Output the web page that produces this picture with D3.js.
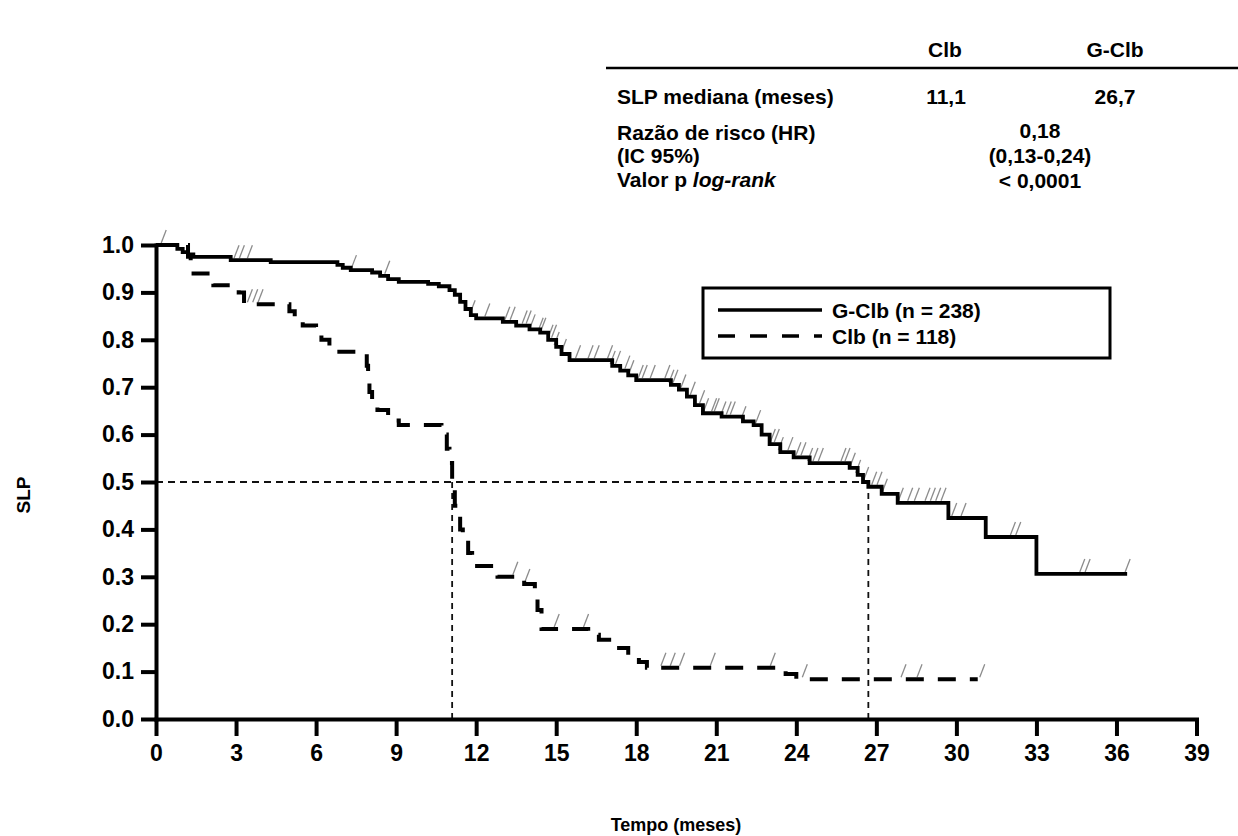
<!DOCTYPE html>
<html>
<head>
<meta charset="utf-8">
<script src="https://cdn.jsdelivr.net/npm/d3@7"></script>
<style>
  body { margin: 0; background: #fff; }
  svg { font-family: "Liberation Sans", Arial, sans-serif; font-weight: bold; }
</style>
</head>
<body>
<div id="chart"></div>
<script>
// ---- data ----
const xTickValues = [0, 3, 6, 9, 12, 15, 18, 21, 24, 27, 30, 33, 36, 39];
const yTickValues = [0, 0.1, 0.2, 0.3, 0.4, 0.5, 0.6, 0.7, 0.8, 0.9, 1.0];

// G-Clb (solid): time of each step and survival after the step
const gclbTimes = [0, 0.8, 1.0, 1.2, 1.4, 2.8, 4.3, 6.8, 7.0, 7.3, 8.1, 8.4, 8.7, 9.1, 10.2, 10.6, 11.0, 11.2, 11.4, 11.6, 11.8, 12.0,
  13.0, 13.5, 14.0, 14.4, 14.7, 15.0, 15.2, 15.5, 17.1, 17.4, 17.7, 18.0, 19.3, 19.6, 19.9, 20.2, 20.5, 21.2, 22.0, 22.4,
  22.7, 23.0, 23.4, 23.9, 24.5, 26.0, 26.3, 26.5, 26.7, 27.2, 27.8, 29.7, 31.1, 33.0, 36.4];
const gclbSurv = [1.0, 0.992, 0.985, 0.98, 0.975, 0.968, 0.964, 0.958, 0.952, 0.947, 0.942, 0.935, 0.928, 0.922, 0.918, 0.913, 0.905, 0.895, 0.88, 0.865, 0.852, 0.845,
  0.838, 0.83, 0.822, 0.815, 0.80, 0.785, 0.77, 0.757, 0.745, 0.735, 0.725, 0.715, 0.705, 0.695, 0.68, 0.662, 0.645, 0.638, 0.628, 0.62,
  0.60, 0.58, 0.563, 0.552, 0.54, 0.53, 0.515, 0.50, 0.49, 0.475, 0.456, 0.424, 0.384, 0.306, 0.306];
const gclbCensor = [0.27, 3.0, 3.2, 3.5, 7.4, 8.65, 11.85, 12.4, 13.15, 13.35, 13.8, 13.95, 14.1, 14.4, 14.5, 14.77, 14.9, 15.0, 15.27,
  15.8, 16.27, 16.5, 17.0, 17.1, 17.3, 17.65, 17.8, 18.15, 18.3, 18.6, 19.15, 19.3, 19.45, 19.75, 20.1, 20.45, 20.6, 20.9, 21.0,
  21.25, 21.45, 21.6, 22.0, 22.55, 23.1, 23.25, 23.4, 23.76, 24.06, 24.25, 24.5, 24.7, 24.9, 25.75, 25.9, 26.1, 26.3, 26.6, 26.9,
  27.1, 27.3, 27.9, 28.25, 28.5, 28.9, 29.1, 29.3, 29.5, 29.9, 30.25, 32.1, 32.3, 34.7, 34.9, 36.4];

// Clb (dashed)
const clbTimes = [0, 1.2, 1.3, 2.15, 3.1, 3.3, 5.0, 5.2, 5.5, 6.0, 6.2, 6.5, 7.9, 7.95, 8.0, 8.1, 8.3, 8.7, 9.1, 10.7, 10.9, 11.0,
  11.1, 11.2, 11.4, 11.5, 11.7, 11.85, 12.8, 13.8, 14.2, 14.3, 14.45, 16.2, 16.6, 17.2, 17.7, 18.1, 18.4, 23.6, 24.0, 30.8];
const clbSurv = [1.0, 0.975, 0.94, 0.915, 0.90, 0.875, 0.86, 0.848, 0.83, 0.815, 0.80, 0.775, 0.745, 0.72, 0.69, 0.673, 0.652, 0.63, 0.62, 0.60, 0.57, 0.54,
  0.50, 0.45, 0.40, 0.38, 0.35, 0.323, 0.30, 0.285, 0.27, 0.23, 0.19, 0.178, 0.167, 0.15, 0.135, 0.12, 0.108, 0.095, 0.084, 0.084];
const clbCensor = [3.5, 3.7, 3.9, 13.45, 13.9, 15.0, 16.1, 19.0, 19.35, 19.7, 20.85, 23.1, 24.3, 28.0, 28.6, 30.95];

const medians = [11.1, 26.7];

const legendItems = ["G-Clb (n = 238)", "Clb (n = 118)"];

const tableHeader = ["Clb", "G-Clb"];
const tableRowLabel = "SLP mediana (meses)";
const tableRowValues = ["11,1", "26,7"];
const hrLabels = ["Razão de risco (HR)", "(IC 95%)", "Valor p "];
const hrValues = ["0,18", "(0,13-0,24)", "< 0,0001"];

// ---- layout ----
const W = 1238, H = 836;
const svg = d3.select("#chart").append("svg")
  .attr("width", W).attr("height", H);

const x = d3.scaleLinear().domain([0, 39]).range([156, 1196.5]);
const y = d3.scaleLinear().domain([0, 1]).range([719, 245]);

// step value lookup, used to sit the censor ticks on the curve
function survAt(times, surv, t) {
  let s = surv[0];
  for (let i = 0; i < times.length; i++) {
    if (times[i] <= t) s = surv[i]; else break;
  }
  return s;
}

// median reference lines
svg.append("line")
  .attr("x1", x(0)).attr("x2", x(medians[1]))
  .attr("y1", y(0.5)).attr("y2", y(0.5))
  .attr("stroke", "#111").attr("stroke-width", 1.8)
  .attr("stroke-dasharray", "7,5");
medians.forEach(m => {
  svg.append("line")
    .attr("x1", x(m)).attr("x2", x(m))
    .attr("y1", y(0.5)).attr("y2", y(0))
    .attr("stroke", "#111").attr("stroke-width", 1.8)
    .attr("stroke-dasharray", "6,5");
});

// censor ticks
function drawCensor(list, times, surv) {
  svg.append("g")
    .selectAll("line")
    .data(list)
    .enter()
    .append("line")
    .attr("x1", d => x(d) - 2)
    .attr("y1", d => y(survAt(times, surv, d)) - 2)
    .attr("x2", d => x(d) + 3)
    .attr("y2", d => y(survAt(times, surv, d)) - 15)
    .attr("stroke", "#8c8c8c")
    .attr("stroke-width", 1.3);
}
drawCensor(gclbCensor, gclbTimes, gclbSurv);
drawCensor(clbCensor, clbTimes, clbSurv);

const step = d3.line()
  .x(d => x(d[0]))
  .y(d => y(d[1]))
  .curve(d3.curveStepAfter);

svg.append("path")
  .datum(clbTimes.map((t, i) => [t, clbSurv[i]]))
  .attr("d", step)
  .attr("fill", "none")
  .attr("stroke", "#000")
  .attr("stroke-width", 4)
  .attr("stroke-dasharray", "18,14");

svg.append("path")
  .datum(gclbTimes.map((t, i) => [t, gclbSurv[i]]))
  .attr("d", step)
  .attr("fill", "none")
  .attr("stroke", "#000")
  .attr("stroke-width", 3.8);

// axes
const yAxis = svg.append("g")
  .attr("transform", `translate(${x(0)},0)`)
  .call(d3.axisLeft(y).tickValues(yTickValues).tickFormat(d3.format(".1f"))
    .tickSize(15).tickSizeOuter(0).tickPadding(7));
const xAxis = svg.append("g")
  .attr("transform", `translate(0,${y(0)})`)
  .call(d3.axisBottom(x).tickValues(xTickValues).tickFormat(d3.format("d"))
    .tickSize(17).tickSizeOuter(0).tickPadding(9));

[xAxis, yAxis].forEach(a => {
  a.select(".domain").attr("stroke", "#000").attr("stroke-width", 4).attr("stroke-linecap", "square");
  a.selectAll(".tick line").attr("stroke", "#000").attr("stroke-width", 4);
  a.selectAll(".tick text")
    .attr("fill", "#000")
    .style("font-family", '"Liberation Sans", Arial, sans-serif')
    .style("font-weight", "bold")
    .style("font-size", "23px");
});

// axis titles
svg.append("text")
  .attr("transform", "translate(30,495) rotate(-90)")
  .attr("text-anchor", "middle")
  .style("font-size", "19px")
  .text("SLP");
svg.append("text")
  .attr("x", 676).attr("y", 831)
  .attr("text-anchor", "middle")
  .style("font-size", "18px")
  .text("Tempo (meses)");

// legend
const legend = svg.append("g");
legend.append("rect")
  .attr("x", 703).attr("y", 288)
  .attr("width", 407).attr("height", 70)
  .attr("fill", "#fff").attr("stroke", "#000").attr("stroke-width", 3);
legendItems.forEach((label, i) => {
  const ly = 310 + i * 26;
  legend.append("line")
    .attr("x1", 718).attr("x2", 822)
    .attr("y1", ly).attr("y2", ly)
    .attr("stroke", "#000").attr("stroke-width", 3.5)
    .attr("stroke-dasharray", i === 1 ? "17,15" : null);
  legend.append("text")
    .attr("x", 832).attr("y", ly + 8)
    .style("font-size", "21px")
    .text(label);
});

// summary table
const table = svg.append("g").style("font-size", "21px");
[945, 1115].forEach((cx, i) => {
  table.append("text").attr("x", cx).attr("y", 57).attr("text-anchor", "middle").text(tableHeader[i]);
});
table.append("line")
  .attr("x1", 606).attr("x2", W)
  .attr("y1", 68).attr("y2", 68)
  .attr("stroke", "#000").attr("stroke-width", 2.5);
table.append("text").attr("x", 617).attr("y", 104).text(tableRowLabel);
[946, 1115].forEach((cx, i) => {
  table.append("text").attr("x", cx).attr("y", 104).attr("text-anchor", "middle").text(tableRowValues[i]);
});
[140, 163, 187].forEach((by, i) => {
  const t = table.append("text").attr("x", 617).attr("y", by).text(hrLabels[i]);
  if (i === 2) t.append("tspan").style("font-style", "italic").text("log-rank");
});
[138, 163, 188].forEach((by, i) => {
  table.append("text").attr("x", 1040).attr("y", by).attr("text-anchor", "middle").text(hrValues[i]);
});
</script>
</body>
</html>
